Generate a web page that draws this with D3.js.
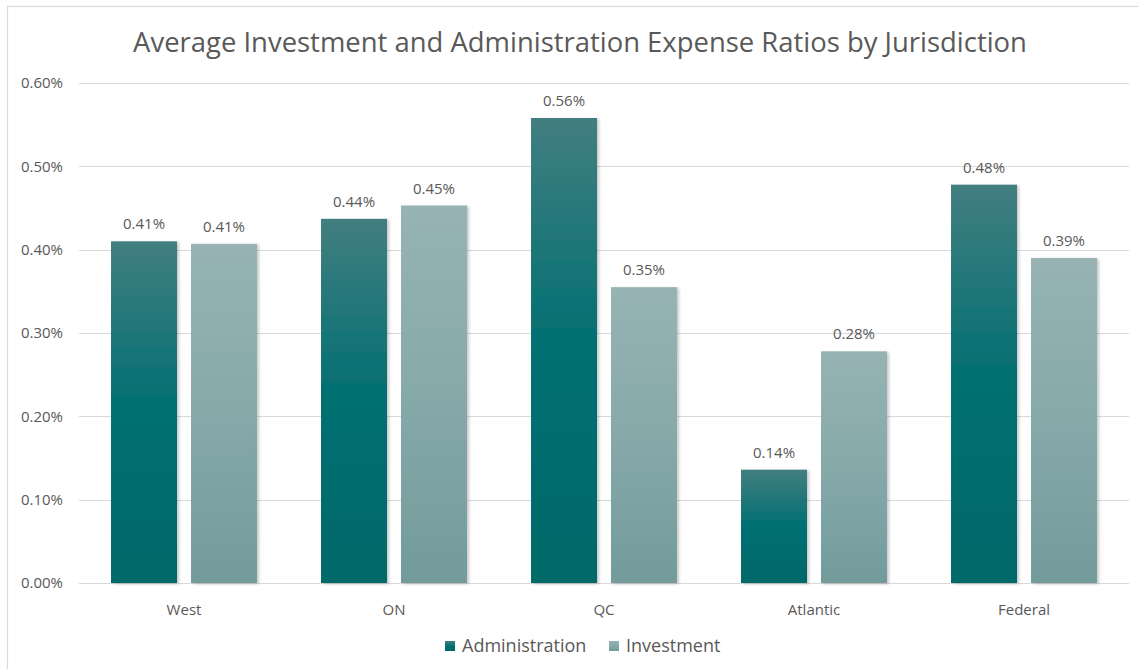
<!DOCTYPE html>
<html><head><meta charset="utf-8">
<script src="https://cdn.jsdelivr.net/npm/d3@7"></script>
<style>body{margin:0;background:#fff;}svg{display:block;font-family:"Open Sans","Noto Sans",sans-serif;}</style>
</head><body>
<svg id="c" width="1138" height="669"></svg>
<script>
const categories = ["West","ON","QC","Atlantic","Federal"];
const seriesNames = ["Administration","Investment"];
const administration = [0.410,0.437,0.558,0.136,0.478];
const investment = [0.407,0.453,0.355,0.278,0.390];
const yTicks = [0,0.1,0.2,0.3,0.4,0.5,0.6];
const title = "Average Investment and Administration Expense Ratios by Jurisdiction";

const svg = d3.select("#c");
const txt = "#595959";
const defs = svg.append("defs");
const g1 = defs.append("linearGradient").attr("id","gA").attr("x1",0).attr("x2",0).attr("y1",0).attr("y2",1);
g1.append("stop").attr("offset","0%").attr("stop-color","#427e80");
g1.append("stop").attr("offset","50%").attr("stop-color","#006f71");
g1.append("stop").attr("offset","100%").attr("stop-color","#02696a");
const g2 = defs.append("linearGradient").attr("id","gI").attr("x1",0).attr("x2",0).attr("y1",0).attr("y2",1);
g2.append("stop").attr("offset","0%").attr("stop-color","#97b3b4");
g2.append("stop").attr("offset","50%").attr("stop-color","#86a9aa");
g2.append("stop").attr("offset","100%").attr("stop-color","#739b9b");
const f = defs.append("filter").attr("id","sh").attr("x","-10%").attr("y","-10%").attr("width","130%").attr("height","120%");
f.append("feDropShadow").attr("dx",2).attr("dy",1).attr("stdDeviation",1.5).attr("flood-color","#000").attr("flood-opacity",0.22);

// border
svg.append("rect").attr("x",7.5).attr("y",6.5).attr("width",1140).attr("height",670).attr("fill","none").attr("stroke","#d9d9d9").attr("stroke-width",1.2);

const x0 = d3.scaleBand().domain(categories).range([79,1129]).paddingInner(0.305).paddingOuter(0.1525);
const x1 = d3.scaleBand().domain(seriesNames).range([0,x0.bandwidth()]).paddingInner(0.175);
const y = d3.scaleLinear().domain([0,0.6]).range([583,83]);

// gridlines
svg.append("g").selectAll("line").data(yTicks).join("line")
  .attr("x1",79).attr("x2",1129).attr("y1",d=>Math.round(y(d))+0.5).attr("y2",d=>Math.round(y(d))+0.5)
  .attr("stroke","#d9d9d9").attr("stroke-width",1);

// y axis
const ya = svg.append("g").attr("transform","translate(63,0)")
  .call(d3.axisLeft(y).tickValues(yTicks).tickSize(0).tickPadding(0).tickFormat(d=>d.toFixed(2)+"%"));
ya.select(".domain").remove();
ya.selectAll("text").attr("fill",txt).style("font-size","15px").style("font-family","'Open Sans',sans-serif");

// x axis
const xa = svg.append("g").attr("transform","translate(0,583)")
  .call(d3.axisBottom(x0).tickSize(0).tickPadding(21));
xa.select(".domain").remove();
xa.selectAll("text").attr("fill",txt).style("font-size","15px").style("font-family","'Open Sans',sans-serif");

const data = categories.map((c,i)=>({c, vals:[{s:"Administration",v:administration[i]},{s:"Investment",v:investment[i]}]}));
const grp = svg.append("g").selectAll("g").data(data).join("g").attr("transform",d=>`translate(${x0(d.c)},0)`);
grp.selectAll("rect").data(d=>d.vals).join("rect")
  .attr("x",d=>x1(d.s)).attr("width",x1.bandwidth())
  .attr("y",d=>y(d.v)).attr("height",d=>y(0)-y(d.v))
  .attr("fill",d=>d.s==="Administration"?"url(#gA)":"url(#gI)")
  .attr("filter","url(#sh)");
grp.selectAll("text").data(d=>d.vals).join("text")
  .attr("x",d=>x1(d.s)+x1.bandwidth()/2).attr("y",d=>y(d.v)-12)
  .attr("text-anchor","middle").attr("fill",txt).style("font-size","15px")
  .text(d=>d.v.toFixed(2)+"%");

// title
const t = svg.append("text").attr("x",580).attr("y",52).attr("text-anchor","middle")
  .attr("fill",txt).style("font-size","24px").text(title);
const tw = t.node().getComputedTextLength();
t.style("font-size",(24*894/tw).toFixed(2)+"px");

// legend
const leg = svg.append("g");
const items = [{n:"Administration",f:"url(#gA)"},{n:"Investment",f:"url(#gI)"}];
const positions = [445, 609];
items.forEach((it,i)=>{
  const gx = positions[i];
  leg.append("rect").attr("x",gx).attr("y",641).attr("width",10).attr("height",10).attr("fill",it.f);
  leg.append("text").attr("x",gx+17).attr("y",652).attr("fill",txt).style("font-size","18px").text(it.n);
});
</script>
</body></html>
